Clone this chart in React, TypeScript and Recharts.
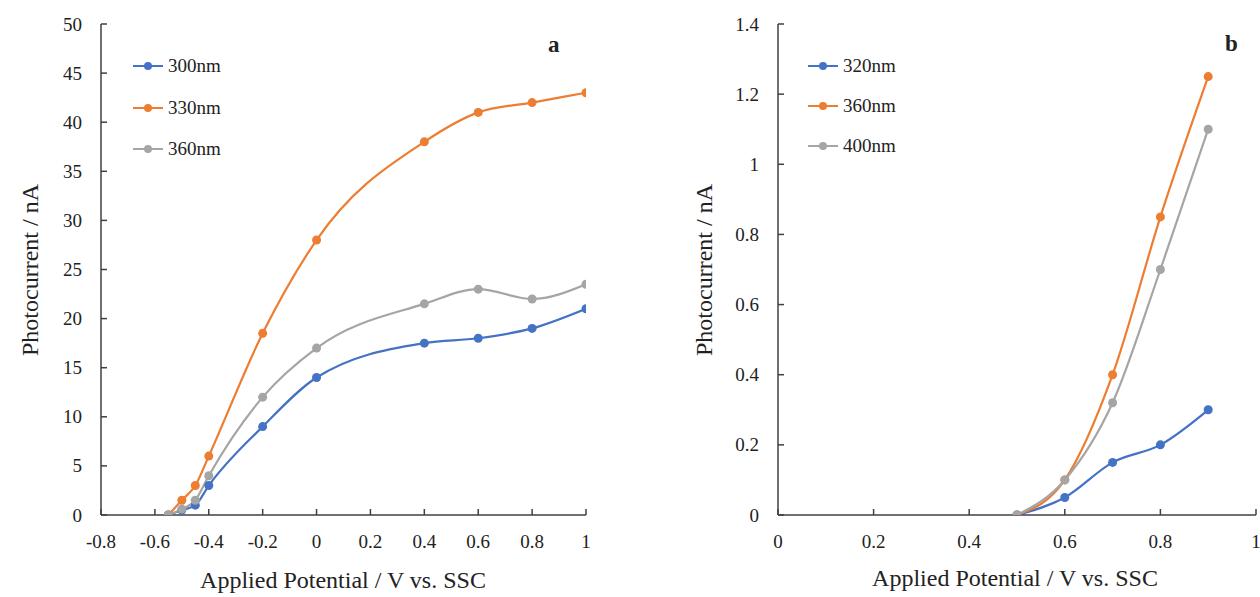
import { LineChart, Line, XAxis, YAxis } from "recharts";

const potentialsA = [-0.55, -0.5, -0.45, -0.4, -0.2, 0, 0.4, 0.6, 0.8, 1];
const nm300 = [0, 0.5, 1, 3, 9, 14, 17.5, 18, 19, 21];
const nm330 = [0, 1.5, 3, 6, 18.5, 28, 38, 41, 42, 43];
const nm360a = [0, 0.6, 1.5, 4, 12, 17, 21.5, 23, 22, 23.5];

const potentialsB = [0.5, 0.6, 0.7, 0.8, 0.9];
const nm320 = [0, 0.05, 0.15, 0.2, 0.3];
const nm360b = [0, 0.1, 0.4, 0.85, 1.25];
const nm400 = [0, 0.1, 0.32, 0.7, 1.1];

const xTicksA = [-0.8, -0.6, -0.4, -0.2, 0, 0.2, 0.4, 0.6, 0.8, 1];
const yTicksA = [0, 5, 10, 15, 20, 25, 30, 35, 40, 45, 50];
const xTicksB = [0, 0.2, 0.4, 0.6, 0.8, 1];
const yTicksB = [0, 0.2, 0.4, 0.6, 0.8, 1, 1.2, 1.4];

const BLUE = "#4472C4";
const ORANGE = "#ED7D31";
const GRAY = "#A5A5A5";
const AXIS = "#404040";
const FONT = '"Liberation Serif", "Times New Roman", serif';

const dataA = potentialsA.map((x, i) => ({ x, s1: nm300[i], s2: nm330[i], s3: nm360a[i] }));
const dataB = potentialsB.map((x, i) => ({ x, s1: nm320[i], s2: nm360b[i], s3: nm400[i] }));

const XTick = ({ x, y, payload }: any) => (
  <g>
    <line x1={x} x2={x} y1={y} y2={y - 6} stroke={AXIS} strokeWidth={1.5} />
    <text x={x} y={y + 33} textAnchor="middle" fontSize={19} fill="#222" fontFamily={FONT}>
      {payload.value}
    </text>
  </g>
);

const YTick = ({ x, y, payload }: any) => (
  <g>
    <line x1={x} x2={x + 6} y1={y} y2={y} stroke={AXIS} strokeWidth={1.5} />
    <text x={x - 19} y={y + 6.5} textAnchor="end" fontSize={19} fill="#222" fontFamily={FONT}>
      {payload.value}
    </text>
  </g>
);

const Legend = ({ left, top, gap, items }: { left: number; top: number; gap: number; items: [string, string][] }) => (
  <div style={{ position: "absolute", left, top }}>
    {items.map(([label, color], i) => (
      <div key={label} style={{ position: "absolute", top: i * gap, left: 0, display: "flex", alignItems: "center", whiteSpace: "nowrap" }}>
        <svg width={30} height={12}>
          <line x1={0} x2={30} y1={6} y2={6} stroke={color} strokeWidth={2} />
          <circle cx={15} cy={6} r={4} fill={color} />
        </svg>
        <span style={{ marginLeft: 5, fontFamily: FONT, fontSize: 19, color: "#222" }}>{label}</span>
      </div>
    ))}
  </div>
);

const textStyle = { position: "absolute" as const, fontFamily: FONT, color: "#222", whiteSpace: "nowrap" as const };

const Panel = ({ data, xDomain, xTicks, yDomain, yTicks, marginLeft, marginRight, colors }: any) => (
  <LineChart width={620} height={597} data={data} margin={{ top: 24, right: marginRight, bottom: 52, left: marginLeft }} style={{ overflow: "visible" }}>
    <XAxis
      dataKey="x"
      type="number"
      domain={xDomain}
      ticks={xTicks}
      height={30}
      tickSize={0}
      tickMargin={0}
      tick={<XTick />}
      axisLine={{ stroke: AXIS, strokeWidth: 1.5 }}
      tickLine={false}
      allowDataOverflow
    />
    <YAxis
      type="number"
      domain={yDomain}
      ticks={yTicks}
      width={60}
      tickSize={0}
      tickMargin={0}
      tick={<YTick />}
      axisLine={{ stroke: AXIS, strokeWidth: 1.5 }}
      tickLine={false}
      allowDataOverflow
    />
    {["s1", "s2", "s3"].map((k, i) => (
      <Line
        key={k}
        dataKey={k}
        type="monotone"
        stroke={colors[i]}
        strokeWidth={2.2}
        dot={{ r: 4.5, fill: colors[i], stroke: colors[i], strokeWidth: 0 }}
        isAnimationActive={false}
      />
    ))}
  </LineChart>
);

export default function App() {
  return (
    <div style={{ position: "absolute", left: 0, top: 0, width: 1260, height: 597, background: "#fff", overflow: "hidden" }}>
      <div style={{ position: "absolute", left: 0, top: 0 }}>
        <Panel
          data={dataA}
          xDomain={[-0.8, 1]}
          xTicks={xTicksA}
          yDomain={[0, 50]}
          yTicks={yTicksA}
          marginLeft={41}
          marginRight={34}
          colors={[BLUE, ORANGE, GRAY]}
        />
      </div>
      <div style={{ position: "absolute", left: 640, top: 0 }}>
        <Panel
          data={dataB}
          xDomain={[0, 1]}
          xTicks={xTicksB}
          yDomain={[0, 1.4]}
          yTicks={yTicksB}
          marginLeft={78}
          marginRight={4}
          colors={[BLUE, ORANGE, GRAY]}
        />
      </div>

      <Legend left={133} top={55} gap={41.5} items={[["300nm", BLUE], ["330nm", ORANGE], ["360nm", GRAY]]} />
      <Legend left={808} top={55} gap={40} items={[["320nm", BLUE], ["360nm", ORANGE], ["400nm", GRAY]]} />

      <div style={{ ...textStyle, left: 548, top: 32, fontSize: 23, fontWeight: "bold" }}>a</div>
      <div style={{ ...textStyle, left: 1225, top: 31, fontSize: 23, fontWeight: "bold" }}>b</div>

      <div style={{ ...textStyle, left: 343, top: 580, fontSize: 24, transform: "translate(-50%, -50%)" }}>
        Applied Potential / V vs. SSC
      </div>
      <div style={{ ...textStyle, left: 1015, top: 578, fontSize: 24, transform: "translate(-50%, -50%)" }}>
        Applied Potential / V vs. SSC
      </div>
      <div style={{ ...textStyle, left: 30, top: 270, fontSize: 24, transform: "translate(-50%, -50%) rotate(-90deg)" }}>
        Photocurrent / nA
      </div>
      <div style={{ ...textStyle, left: 704, top: 270, fontSize: 24, transform: "translate(-50%, -50%) rotate(-90deg)" }}>
        Photocurrent / nA
      </div>
    </div>
  );
}
